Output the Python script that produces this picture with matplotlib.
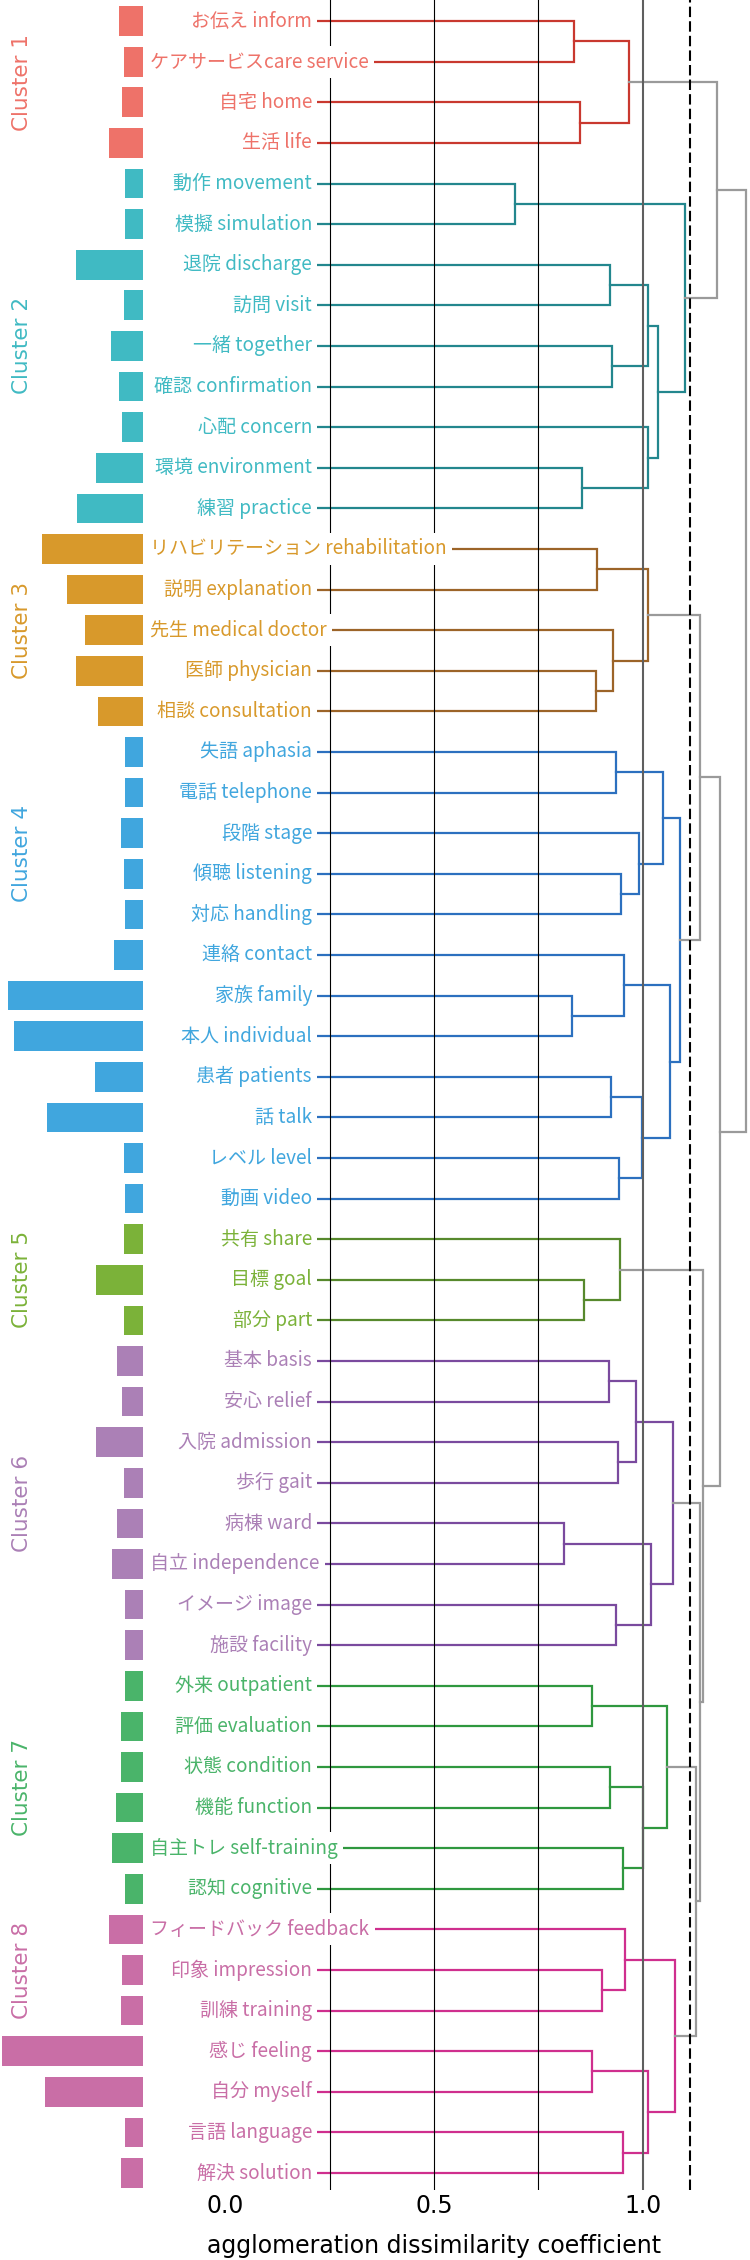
import matplotlib
matplotlib.use("Agg")
import matplotlib.pyplot as plt
from matplotlib.transforms import blended_transform_factory

plt.rcParams['font.family'] = ['DejaVu Sans', 'Noto Sans CJK JP']

# leaves, top to bottom
words = [
    "お伝え inform", "ケアサービスcare service", "自宅 home", "生活 life",
    "動作 movement", "模擬 simulation", "退院 discharge", "訪問 visit",
    "一緒 together", "確認 confirmation", "心配 concern", "環境 environment",
    "練習 practice",
    "リハビリテーション rehabilitation", "説明 explanation", "先生 medical doctor",
    "医師 physician", "相談 consultation",
    "失語 aphasia", "電話 telephone", "段階 stage", "傾聴 listening",
    "対応 handling", "連絡 contact", "家族 family", "本人 individual",
    "患者 patients", "話 talk", "レベル level", "動画 video",
    "共有 share", "目標 goal", "部分 part",
    "基本 basis", "安心 relief", "入院 admission", "歩行 gait", "病棟 ward",
    "自立 independence", "イメージ image", "施設 facility",
    "外来 outpatient", "評価 evaluation", "状態 condition", "機能 function",
    "自主トレ self-training", "認知 cognitive",
    "フィードバック feedback", "印象 impression", "訓練 training", "感じ feeling",
    "自分 myself", "言語 language", "解決 solution",
]
freq = [15, 12, 13, 21,
        11, 11, 42, 12, 20, 15, 13, 29, 41,
        63, 47, 36, 42, 28,
        11, 11, 14, 12, 11, 18, 84, 80, 30, 60, 12, 11,
        12, 29, 12,
        16, 13, 29, 12, 16, 19, 11, 11,
        11, 14, 14, 17, 19, 11,
        21, 13, 14, 88, 61, 11, 14]
cluster = [1] * 4 + [2] * 9 + [3] * 5 + [4] * 12 + [5] * 3 + [6] * 8 + [7] * 6 + [8] * 7

cluster_names = ["Cluster %d" % k for k in range(1, 9)]
text_colors = ['#EE7269', '#40BAC3', '#D8992B', '#40A6DE',
               '#7BB239', '#AB80B6', '#4AB46A', '#C96EA6']
line_colors = ['#C9382F', '#23878E', '#9C6428', '#2C70BF',
               '#57892D', '#7A4A9E', '#2F983F', '#CF2F8E']

# merges: (first leaf, first leaf of right group, end (exclusive), height)
merges = [
    (0, 1, 2, 0.835), (2, 3, 4, 0.849), (0, 2, 4, 0.966),
    (4, 5, 6, 0.694), (6, 7, 8, 0.920), (8, 9, 10, 0.925), (6, 8, 10, 1.011),
    (11, 12, 13, 0.853), (10, 11, 13, 1.012), (6, 10, 13, 1.037), (4, 6, 13, 1.100),
    (0, 4, 13, 1.176),
    (13, 14, 15, 0.890), (16, 17, 18, 0.888), (15, 16, 18, 0.928), (13, 15, 18, 1.011),
    (18, 19, 20, 0.935), (21, 22, 23, 0.947), (20, 21, 23, 0.990), (18, 20, 23, 1.047),
    (24, 25, 26, 0.831), (23, 24, 26, 0.955), (26, 27, 28, 0.923), (28, 29, 30, 0.943),
    (26, 28, 30, 0.997), (23, 26, 30, 1.064), (18, 23, 30, 1.088),
    (13, 18, 30, 1.136),
    (31, 32, 33, 0.858), (30, 31, 33, 0.944),
    (33, 34, 35, 0.918), (35, 36, 37, 0.940), (33, 35, 37, 0.983), (37, 38, 39, 0.811),
    (39, 40, 41, 0.935), (37, 39, 41, 1.020), (33, 37, 41, 1.071),
    (41, 42, 43, 0.878), (43, 44, 45, 0.920), (45, 46, 47, 0.953), (43, 45, 47, 1.000),
    (41, 43, 47, 1.057),
    (48, 49, 50, 0.901), (47, 48, 50, 0.957), (50, 51, 52, 0.879), (52, 53, 54, 0.953),
    (50, 52, 54, 1.012), (47, 50, 54, 1.077),
    (41, 47, 54, 1.126), (33, 41, 54, 1.136), (30, 33, 54, 1.144), (13, 30, 54, 1.184),
    (0, 13, 54, 1.247),
]
cut_height = 1.112

n = len(words)
W, H = 750, 2260
bottom_px, top_px = 70, 2260
label_x = 0.208
label_font = ['Noto Sans CJK JP', 'DejaVu Sans']

fig = plt.figure(figsize=(W / 100, H / 100), dpi=100)

# word frequency bars
bax = fig.add_axes([0, bottom_px / H, 143 / W, (top_px - bottom_px) / H])
bax.barh(range(n), freq, height=0.73,
         color=[text_colors[c - 1] for c in cluster])
bax.set_xlim(89, 0)
bax.set_ylim(53.42, -0.52)
bax.axis('off')

ax = fig.add_axes([0, bottom_px / H, 1, (top_px - bottom_px) / H])
ax.patch.set_visible(False)
ax.set_zorder(2)
ax.set_xlim(-0.5383, 1.2560)
ax.set_ylim(53.42, -0.52)
for s in ax.spines.values():
    s.set_visible(False)
ax.set_yticks([])
ax.set_xticks([0, 0.5, 1.0])
ax.set_xticklabels(["0.0", "0.5", "1.0"])
ax.tick_params(axis='x', length=0, labelsize=17, pad=3)

# grid lines
for g in [0.25, 0.5, 0.75]:
    ax.axvline(g, color='black', lw=0.8, zorder=3)
ax.axvline(1.0, color='#5f5f5f', lw=1.5, zorder=3)
ax.axvline(cut_height, color='black', lw=1.5, linestyle=(0, (5, 2)), zorder=3)

# dendrogram
pos = {(i, i + 1): (i, label_x) for i in range(n)}
for a, m, b, h in merges:
    y1, x1 = pos[(a, m)]
    y2, x2 = pos[(m, b)]
    if cluster[a] == cluster[b - 1]:
        col = line_colors[cluster[a] - 1]
    else:
        col = '#9a9a9a'
    ax.plot([x1, h, h, x2], [y1, y1, y2, y2], color=col, lw=1.6,
            solid_joinstyle='miter', zorder=2)
    pos[(a, b)] = ((y1 + y2) / 2, h)

# leaf labels
texts = []
for i, w in enumerate(words):
    t = ax.text(label_x, i, w, ha='right', va='center', fontsize=13.7,
                family=label_font, color=text_colors[cluster[i] - 1], zorder=5,
                bbox=dict(facecolor='white', edgecolor='none', pad=4))
    texts.append(t)

fig.canvas.draw()
left_limit = ax.transData.inverted().transform((150, 0))[0]
for t in texts:
    bb = t.get_window_extent()
    if bb.x0 < 150:
        t.set_ha('left')
        t.set_x(left_limit)

# cluster names: centred on the longest run of leaves whose bar leaves room
for k, name in enumerate(cluster_names):
    idx = [i for i in range(n) if cluster[i] == k + 1]
    runs, cur = [], []
    for i in idx:
        if freq[i] > 70:
            if cur:
                runs.append(cur)
            cur = []
        else:
            cur.append(i)
    if cur:
        runs.append(cur)
    best = max(runs, key=len)
    ax.text(-0.486, (best[0] + best[-1]) / 2, name, rotation=90, ha='center',
            va='center', fontsize=15.5, color=text_colors[k], zorder=5)

trans = blended_transform_factory(ax.transData, ax.transAxes)
ax.text(0.5, -0.0256, "agglomeration dissimilarity coefficient", transform=trans,
        ha='center', va='center', fontsize=17)

fig.savefig("out.png", dpi=100)
